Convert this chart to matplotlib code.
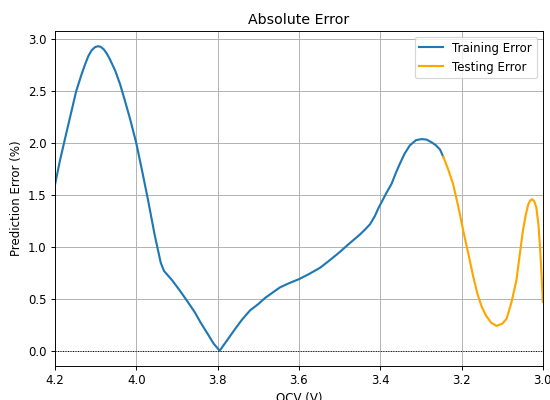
import numpy as np
import matplotlib.pyplot as plt

# training part (OCV in V, error in %)
ocv_train = [4.200, 4.188, 4.175, 4.160, 4.148, 4.135, 4.126, 4.118, 4.110, 4.102,
             4.095, 4.088, 4.080, 4.072, 4.065, 4.052, 4.040, 4.028, 4.015, 4.000,
             3.985, 3.971, 3.955, 3.940, 3.932, 3.912, 3.893, 3.875, 3.856, 3.840,
             3.824, 3.810, 3.795, 3.775, 3.757, 3.740, 3.720, 3.700, 3.683, 3.665,
             3.647, 3.625, 3.600, 3.575, 3.548, 3.525, 3.500, 3.480, 3.462, 3.450,
             3.437, 3.425, 3.413, 3.405, 3.397, 3.385, 3.372, 3.362, 3.352, 3.340,
             3.327, 3.312, 3.298, 3.286, 3.274, 3.263, 3.253, 3.245]
err_train = [1.60, 1.83, 2.05, 2.30, 2.50, 2.66, 2.76, 2.84, 2.895, 2.925,
             2.935, 2.93, 2.905, 2.86, 2.81, 2.70, 2.57, 2.41, 2.23, 2.00,
             1.72, 1.45, 1.12, 0.85, 0.77, 0.68, 0.58, 0.48, 0.37, 0.26,
             0.16, 0.07, 0.00, 0.11, 0.21, 0.30, 0.39, 0.45, 0.51, 0.56,
             0.61, 0.65, 0.69, 0.74, 0.80, 0.87, 0.95, 1.02, 1.08, 1.12,
             1.17, 1.22, 1.30, 1.37, 1.43, 1.52, 1.61, 1.71, 1.80, 1.90,
             1.98, 2.03, 2.04, 2.035, 2.01, 1.98, 1.94, 1.87]

# testing part
ocv_test = [3.245, 3.233, 3.221, 3.208, 3.196, 3.183, 3.171, 3.161, 3.151, 3.140,
            3.127, 3.114, 3.100, 3.089, 3.077, 3.065, 3.057, 3.049, 3.042, 3.036,
            3.031, 3.026, 3.021, 3.016, 3.011, 3.007, 3.003, 3.000]
err_test = [1.87, 1.75, 1.61, 1.39, 1.16, 0.93, 0.71, 0.55, 0.43, 0.34,
            0.27, 0.24, 0.26, 0.31, 0.47, 0.68, 0.92, 1.16, 1.31, 1.41,
            1.45, 1.46, 1.44, 1.38, 1.22, 1.00, 0.72, 0.47]

# bigger figure at lower dpi -> 550x400 px with slightly smaller text
dpi = 85
fig = plt.figure(figsize=(550 / dpi, 400 / dpi), dpi=dpi)
ax = fig.add_axes([0.1, 0.085, 0.887, 0.8375])

ax.plot(ocv_train, err_train, lw=1.8, label='Training Error')
ax.plot(ocv_test, err_test, color='orange', lw=1.8, label='Testing Error')
ax.axhline(0, color='k', linestyle=':', linewidth=0.8)

ax.set_xlim(4.2, 3.0)
ax.set_title('Absolute Error')
ax.set_xlabel('OCV (V)')
ax.set_ylabel('Prediction Error (%)')
ax.grid(True)
ax.legend(loc='upper right')

fig.savefig('out.png', dpi=dpi)
